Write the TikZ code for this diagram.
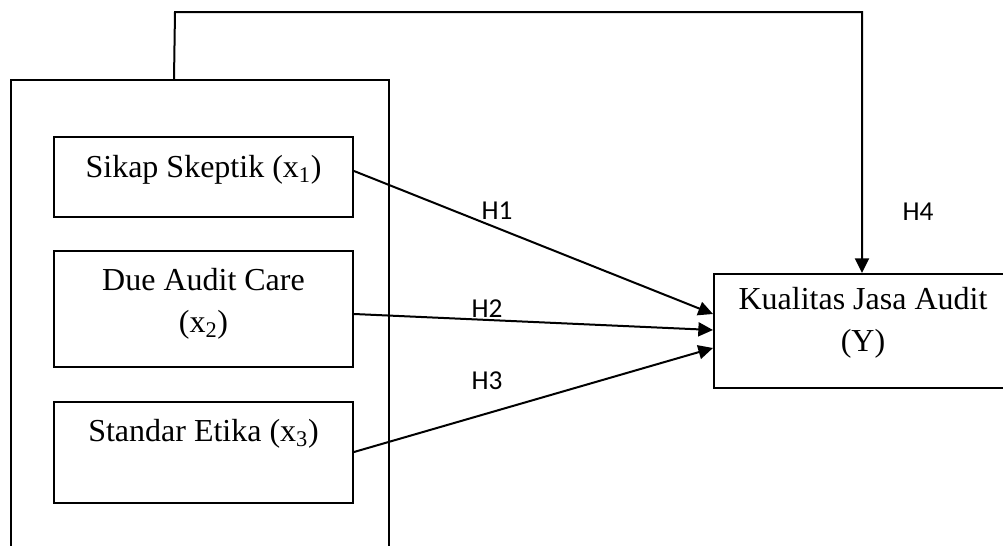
\documentclass[tikz,border=0pt]{standalone}
\usepackage{fontspec}
\setmainfont{Liberation Serif}
\newfontfamily\labfont{Carlito}
\usetikzlibrary{arrows.meta,calc}
\begin{document}
\begin{tikzpicture}[x=0.75pt,y=-0.75pt,
  box/.style={draw,line width=1.5pt,rectangle,inner sep=0pt},
  txt/.style={font=\fontsize{24}{31.5}\selectfont,align=center,inner sep=0pt},
  hlab/.style={font=\labfont\fontsize{20.5}{24}\selectfont,inner sep=0pt},
  conn/.style={line width=1.5pt,-{Triangle[length=11pt,width=10.5pt]}}]
\fill[white] (0,0) rectangle (1003,546);
\begin{scope}
\clip (0,0) rectangle (1003,546);
% group box
\node[box,minimum width=283.5pt,minimum height=375pt] (grp) at (200,330) {};
% inner boxes
\node[box,minimum width=224.25pt,minimum height=60pt] (b1) at (203.5,177) {};
\node[txt] (t1) at (203.5,170) {Sikap Skeptik (x\textsubscript{1})};
\node[box,minimum width=224.25pt,minimum height=87pt] (b2) at (203.5,309) {};
\node[txt] (t2) at (203.5,304) {Due Audit Care\\(x\textsubscript{2})};
\node[box,minimum width=224.25pt,minimum height=75.75pt] (b3) at (203.5,452.5) {};
\node[txt] (t3) at (203.5,434) {Standar Etika (x\textsubscript{3})};
% dependent
\node[box,minimum width=240pt,minimum height=85.5pt] (yb) at (874,331) {};
\node[txt] (ty) at (863,323) {Kualitas Jasa Audit\\(Y)};
% connectors
\coordinate (c1) at (175,12);
\coordinate (c2) at (862,12);
\draw[conn] ($(grp.north west)+(164,0)$) -- (c1) -- (c2) -- (yb.north -| c2);
\draw[conn] ($(b1.east)+(0,-6)$) -- ($(yb.west)+(0,-17)$);
\draw[conn] ($(b2.east)+(0,5)$) -- ($(yb.west)+(0,-1)$);
\draw[conn] ($(b3.east)+(0,-0.5)$) -- ($(yb.west)+(0,17)$);
% labels
\node[hlab] (h1) at (497,211) {H1};
\node[hlab] (h2) at (487,309) {H2};
\node[hlab] (h3) at (487,381) {H3};
\node[hlab] (h4) at (918,212) {H4};
\end{scope}
\pgfresetboundingbox
\useasboundingbox (0,0) rectangle (1003,546);
\end{tikzpicture}
\end{document}
